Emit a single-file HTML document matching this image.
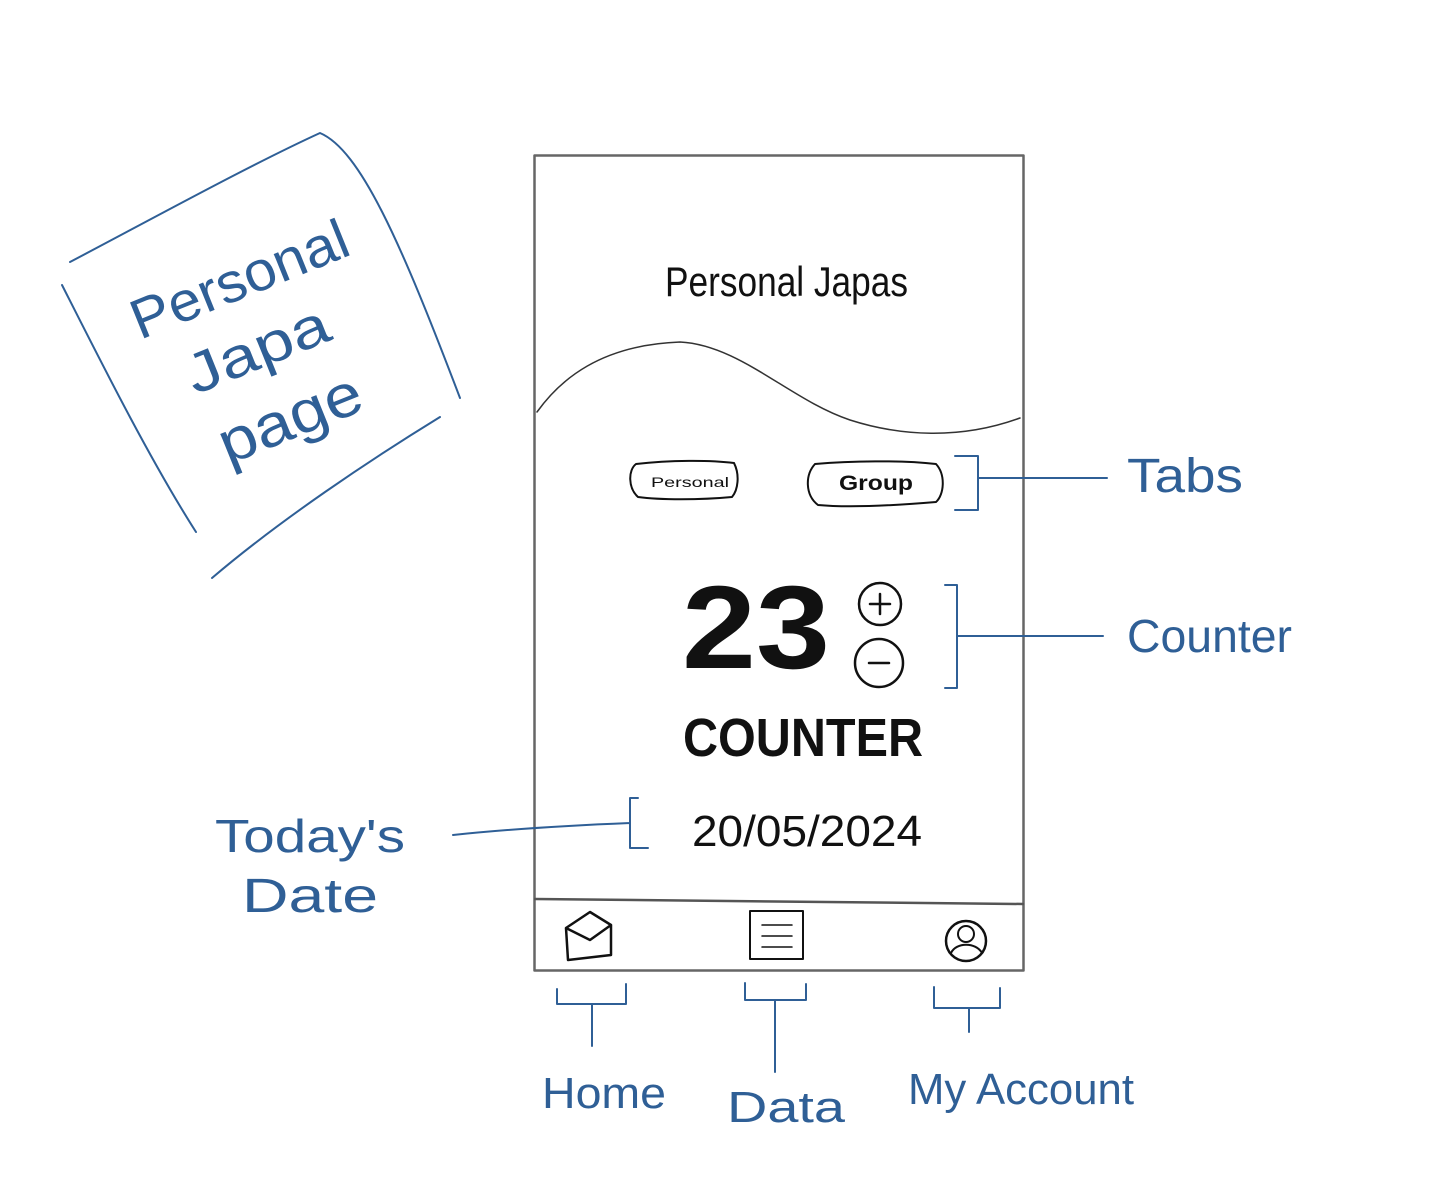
<!DOCTYPE html>
<html><head><meta charset="utf-8"><style>
html,body{margin:0;padding:0;background:#fff;}
svg{display:block;}
text{font-family:"Liberation Sans",sans-serif;}
</style></head><body>
<svg width="1442" height="1188" viewBox="0 0 1442 1188" xmlns="http://www.w3.org/2000/svg">
<g fill="none" stroke-linecap="round" stroke-linejoin="round">
<!-- phone -->
<rect x="534.5" y="155.5" width="489" height="815" stroke="#666" stroke-width="2.5"/>
<path d="M535 899 L1023 904" stroke="#555" stroke-width="2.5"/>
<!-- wave -->
<path d="M537 412 C560 380 600 345 680 342 C740 345 790 400 850 420 C900 436 960 440 1020 418" stroke="#333" stroke-width="1.5"/>
<!-- tabs -->
<path d="M636 464 C670 460 710 460 734 463 C740 475 738 490 732 497 C700 500 660 500 638 497 C628 488 628 470 636 464 Z" stroke="#111" stroke-width="2"/>
<path d="M815 464 C850 461 900 460 936 464 C946 475 944 495 936 502 C900 505 850 508 818 505 C805 495 805 475 815 464 Z" stroke="#111" stroke-width="2"/>
<!-- plus/minus -->
<circle cx="880" cy="604" r="21" stroke="#111" stroke-width="2.5"/>
<path d="M880 594 V614 M870 604 H890" stroke="#111" stroke-width="2.5"/>
<circle cx="879" cy="663" r="24" stroke="#111" stroke-width="2.5"/>
<path d="M869 663 H889" stroke="#111" stroke-width="2.5"/>
<!-- nav icons -->
<path d="M566 928 L590 912 L611 925 L611 955 L568 960 Z M566 928 L590 940 L611 925" stroke="#111" stroke-width="2.5"/>
<rect x="750" y="911" width="53" height="48" stroke="#111" stroke-width="2"/>
<path d="M762 925 H792 M762 936 H792 M762 947 H792" stroke="#111" stroke-width="1.5"/>
<circle cx="966" cy="941" r="20" stroke="#111" stroke-width="2.5"/>
<circle cx="966" cy="934" r="8" stroke="#111" stroke-width="2"/>
<path d="M951 953 C956 942 976 942 982 953" stroke="#111" stroke-width="2"/>
</g>
<g fill="none" stroke="#2f5f96" stroke-width="2" stroke-linecap="round" stroke-linejoin="round">
<!-- sticky note -->
<path d="M70 262 C150 220 250 165 320 133 C360 150 400 240 460 398"/>
<path d="M62 285 C100 360 150 460 196 532"/>
<path d="M212 578 C280 520 370 460 440 417"/>
<!-- tabs bracket -->
<path d="M955 456 H978 V510 H955 M978 478 H1107"/>
<!-- counter bracket -->
<path d="M945 585 H957 V688 H945 M957 636 H1103"/>
<!-- date bracket -->
<path d="M638 798 H630 V848 H648 M453 835 C520 828 580 825 630 823"/>
<!-- nav brackets -->
<path d="M557 989 V1004 H626 V984 M592 1004 V1046"/>
<path d="M745 983 V1000 H806 V984 M775 1000 V1072"/>
<path d="M934 987 V1008 H1000 V988 M969 1008 V1032"/>
</g>
<g fill="#2f5f96" font-family="'Liberation Sans',sans-serif">
<text x="0" y="0" font-size="56" transform="translate(140 340) rotate(-22)" textLength="230" lengthAdjust="spacingAndGlyphs">Personal</text>
<text x="0" y="0" font-size="56" transform="translate(195 395) rotate(-22)" textLength="150" lengthAdjust="spacingAndGlyphs">Japa</text>
<text x="0" y="0" font-size="60" transform="translate(228 465) rotate(-22)" textLength="150" lengthAdjust="spacingAndGlyphs">page</text>
<text x="1127" y="492" font-size="48" textLength="116" lengthAdjust="spacingAndGlyphs">Tabs</text>
<text x="1127" y="652" font-size="46" textLength="165" lengthAdjust="spacingAndGlyphs">Counter</text>
<text x="215" y="852" font-size="46" textLength="190" lengthAdjust="spacingAndGlyphs">Today's</text>
<text x="242" y="912" font-size="48" textLength="136" lengthAdjust="spacingAndGlyphs">Date</text>
<text x="542" y="1108" font-size="44" textLength="124" lengthAdjust="spacingAndGlyphs">Home</text>
<text x="727" y="1122" font-size="44" textLength="118" lengthAdjust="spacingAndGlyphs">Data</text>
<text x="908" y="1104" font-size="44" textLength="226" lengthAdjust="spacingAndGlyphs">My Account</text>
</g>
<g fill="#111">
<text x="665" y="296" font-size="42" textLength="243" lengthAdjust="spacingAndGlyphs">Personal Japas</text>
<text x="651" y="487" font-size="14" font-family="'Liberation Mono',monospace" textLength="78" lengthAdjust="spacingAndGlyphs">Personal</text>
<text x="839" y="490" font-size="21" font-family="'Liberation Mono',monospace" font-weight="bold" textLength="74" lengthAdjust="spacingAndGlyphs">Group</text>
<text x="682" y="668" font-size="118" font-weight="bold" textLength="148" lengthAdjust="spacingAndGlyphs">23</text>
<text x="683" y="756" font-size="54" font-weight="bold" textLength="240" lengthAdjust="spacingAndGlyphs">COUNTER</text>
<text x="692" y="846" font-size="44" textLength="230" lengthAdjust="spacingAndGlyphs">20/05/2024</text>
</g>
</svg>
</body></html>
